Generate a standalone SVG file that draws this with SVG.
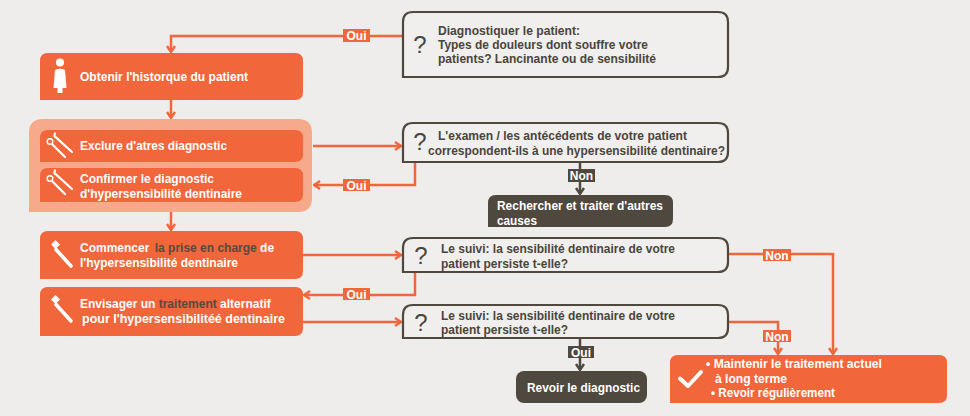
<svg xmlns="http://www.w3.org/2000/svg" width="970" height="416" viewBox="0 0 970 416">
<defs>
<style>
.bg{fill:#eeedeb}
.ob{fill:#f1663a}
.grp{fill:#f6a98b}
.qb{fill:#f0efed;stroke:#4e483f;stroke-width:2.2}
.db{fill:#4e483f}
.ot{fill:#fff;font-family:"Liberation Sans",Arial,sans-serif;font-weight:bold;font-size:12.5px}
.o12{font-size:12px}
.hl{fill:#5a4a3c}
.dt{fill:#4a453c;font-family:"Liberation Sans",Arial,sans-serif;font-weight:bold;font-size:12.5px}
.q{fill:#4a453c;font-family:"Liberation Sans",Arial,sans-serif;font-size:24px;text-anchor:middle}
.lb{fill:#fff;font-family:"Liberation Sans",Arial,sans-serif;font-weight:bold;font-size:12px;text-anchor:middle}
.co{fill:none;stroke:#f1663a;stroke-width:2.5}
.cd{fill:none;stroke:#4e483f;stroke-width:2.5}
.lo{fill:#f1663a}
.ld{fill:#4e483f}
.ic{fill:none;stroke:#fff;stroke-linecap:round}
</style>
<marker id="ao" viewBox="0 0 10 10" refX="9" refY="5" markerWidth="10" markerHeight="10" markerUnits="userSpaceOnUse" orient="auto">
<path d="M3,1 L9,5 L3,9" fill="none" stroke="#f1663a" stroke-width="2.4"/>
</marker>
<marker id="ad" viewBox="0 0 10 10" refX="9" refY="5" markerWidth="10" markerHeight="10" markerUnits="userSpaceOnUse" orient="auto">
<path d="M3,1 L9,5 L3,9" fill="none" stroke="#4e483f" stroke-width="2.4"/>
</marker>
</defs>
<rect class="bg" x="0" y="0" width="970" height="416"/>

<g id="connectors">
<path class="co" d="M403,36 H171 V52" marker-end="url(#ao)"/>
<path class="co" d="M171,100 V118" marker-end="url(#ao)"/>
<path class="co" d="M313,146 H401" marker-end="url(#ao)"/>
<path class="co" d="M415,162 V185 H314" marker-end="url(#ao)"/>
<path class="co" d="M171,212 V230" marker-end="url(#ao)"/>
<path class="cd" d="M580,162 V194" marker-end="url(#ad)"/>
<path class="co" d="M303,255 H401" marker-end="url(#ao)"/>
<path class="co" d="M415,272 V295 H304" marker-end="url(#ao)"/>
<path class="co" d="M303,322 H401" marker-end="url(#ao)"/>
<path class="co" d="M728,254 H833 V354" marker-end="url(#ao)"/>
<path class="co" d="M728,322 H778 V354" marker-end="url(#ao)"/>
<path class="cd" d="M580,338 V370" marker-end="url(#ad)"/>
<rect class="lo" x="343" y="29" width="27" height="13"/>
<text class="lb" x="356.5" y="40">Oui</text>
<rect class="lo" x="343" y="179" width="27" height="12"/>
<text class="lb" x="356.5" y="189.5">Oui</text>
<rect class="lo" x="343" y="288" width="27" height="12"/>
<text class="lb" x="356.5" y="298.5">Oui</text>
<rect class="ld" x="568" y="169" width="27" height="13"/>
<text class="lb" x="581.5" y="180">Non</text>
<rect class="ld" x="568" y="346" width="26" height="12"/>
<text class="lb" x="581" y="356.5">Oui</text>
<rect class="lo" x="763" y="249" width="28" height="12"/>
<text class="lb" x="777" y="259.5">Non</text>
<rect class="lo" x="763" y="330" width="28" height="12"/>
<text class="lb" x="777" y="340.5">Non</text>
</g>

<g id="diagnose">
<path class="qb" d="M403,77 V22 Q403,12 413,12 H718 Q728,12 728,22 V67 Q728,77 718,77 Z"/>
<text class="q" x="420" y="53">?</text>
<text class="dt" x="438" y="34.5" textLength="142" lengthAdjust="spacingAndGlyphs">Diagnostiquer le patient:</text>
<text class="dt" x="438" y="48.5" textLength="210" lengthAdjust="spacingAndGlyphs">Types de douleurs dont souffre votre</text>
<text class="dt" x="438" y="62.5" textLength="218" lengthAdjust="spacingAndGlyphs">patients? Lancinante ou de sensibilité</text>
</g>

<g id="historique">
<path class="ob" d="M40,100 V61 Q40,53 48,53 H295 Q303,53 303,61 V92 Q303,100 295,100 Z"/>
<circle cx="60" cy="62.5" r="4" fill="#fff"/>
<path d="M55,70 Q60,67.5 65,70 L66.5,88 L53.5,88 Z" fill="#fff"/>
<rect x="57.5" y="88" width="5" height="5" fill="#fff"/>
<text class="ot" x="80" y="81" textLength="168" lengthAdjust="spacingAndGlyphs">Obtenir l'historque du patient</text>
</g>

<g id="groupe">
<path class="grp" d="M29,212 V133 Q29,119 43,119 H298 Q312,119 312,133 V198 Q312,212 298,212 Z"/>
</g>

<g id="exclure">
<path class="ob" d="M40,162 V138 Q40,130 48,130 H295 Q303,130 303,138 V154 Q303,162 295,162 Z"/>
<circle cx="50" cy="141.5" r="2.8" fill="none" stroke="#fff" stroke-width="1.4"/>
<path class="ic" stroke-width="2.2" d="M52.5,144.5 L65,157"/>
<path class="ic" stroke-width="2.2" d="M55,133.5 Q53.5,136 56,137.5 L72,152"/>
<text class="ot" x="80" y="150" textLength="147" lengthAdjust="spacingAndGlyphs">Exclure d'atres diagnostic</text>
</g>

<g id="confirmer">
<path class="ob" d="M40,202 V176 Q40,168 48,168 H295 Q303,168 303,176 V194 Q303,202 295,202 Z"/>
<circle cx="50" cy="178.5" r="2.8" fill="none" stroke="#fff" stroke-width="1.4"/>
<path class="ic" stroke-width="2.2" d="M52.5,181.5 L65,194"/>
<path class="ic" stroke-width="2.2" d="M55,170.5 Q53.5,173 56,174.5 L72,189"/>
<text class="ot" x="80" y="183" textLength="134" lengthAdjust="spacingAndGlyphs">Confirmer le diagnostic</text>
<text class="ot" x="80" y="198" textLength="162" lengthAdjust="spacingAndGlyphs">d'hypersensibilité dentinaire</text>
</g>

<g id="examen">
<path class="qb" d="M403,162 V133 Q403,123 413,123 H718 Q728,123 728,133 V152 Q728,162 718,162 Z"/>
<text class="q" x="420" y="150">?</text>
<text class="dt" x="438" y="139.5" textLength="249" lengthAdjust="spacingAndGlyphs">L'examen / les antécédents de votre patient</text>
<text class="dt" x="428" y="154.5" textLength="297" lengthAdjust="spacingAndGlyphs">correspondent-ils à une hypersensibilité dentinaire?</text>
</g>

<g id="rechercher">
<path class="db" d="M488,227 V203 Q488,195 496,195 H665 Q673,195 673,203 V219 Q673,227 665,227 Z"/>
<text class="ot" x="497" y="210" textLength="166" lengthAdjust="spacingAndGlyphs">Rechercher et traiter d'autres</text>
<text class="ot" x="497" y="225" textLength="40" lengthAdjust="spacingAndGlyphs">causes</text>
</g>

<g id="commencer">
<path class="ob" d="M40,279 V239 Q40,231 48,231 H295 Q303,231 303,239 V271 Q303,279 295,279 Z"/>
<path d="M51,244.5 L55.5,240 L60,244.5 L55.5,249 Z" fill="#fff"/>
<path class="ic" stroke-width="3.6" d="M56,249.5 L71,266"/>
<text class="ot o12" x="80" y="252">Commencer <tspan class="hl" dx="2">la prise en charge</tspan> de</text>
<text class="ot" x="80" y="267" textLength="158" lengthAdjust="spacingAndGlyphs">l'hypersensibilité dentinaire</text>
</g>

<g id="suivi1">
<path class="qb" d="M403,272 V248 Q403,238 413,238 H718 Q728,238 728,248 V262 Q728,272 718,272 Z"/>
<text class="q" x="421" y="264">?</text>
<text class="dt" x="441" y="252.5" textLength="234" lengthAdjust="spacingAndGlyphs">Le suivi: la sensibilité dentinaire de votre</text>
<text class="dt" x="441" y="267.5" textLength="127" lengthAdjust="spacingAndGlyphs">patient persiste t-elle?</text>
</g>

<g id="envisager">
<path class="ob" d="M40,336 V295 Q40,287 48,287 H295 Q303,287 303,295 V328 Q303,336 295,336 Z"/>
<path d="M51,299.5 L55.5,295 L60,299.5 L55.5,304 Z" fill="#fff"/>
<path class="ic" stroke-width="3.6" d="M56,304.5 L71,321"/>
<text class="ot o12" x="80" y="308">Envisager un <tspan class="hl">traitement</tspan> alternatif</text>
<text class="ot" x="82" y="323" textLength="203" lengthAdjust="spacingAndGlyphs">pour l'hypersensibilitéé dentinaire</text>
</g>

<g id="suivi2">
<path class="qb" d="M403,338 V315 Q403,305 413,305 H718 Q728,305 728,315 V328 Q728,338 718,338 Z"/>
<text class="q" x="421" y="331">?</text>
<text class="dt" x="441" y="319.5" textLength="234" lengthAdjust="spacingAndGlyphs">Le suivi: la sensibilité dentinaire de votre</text>
<text class="dt" x="441" y="334" textLength="127" lengthAdjust="spacingAndGlyphs">patient persiste t-elle?</text>
</g>

<g id="revoir">
<rect class="db" x="516" y="371" width="131" height="32" rx="8"/>
<text class="ot" x="527" y="392" textLength="113" lengthAdjust="spacingAndGlyphs">Revoir le diagnostic</text>
</g>

<g id="maintenir">
<path class="ob" d="M670,403 V363 Q670,355 678,355 H939 Q947,355 947,363 V395 Q947,403 939,403 Z"/>
<path d="M680,378.5 L688,386 L701,372" fill="none" stroke="#fff" stroke-width="4" stroke-linecap="round" stroke-linejoin="round"/>
<text class="ot" x="706" y="367.5" textLength="176" lengthAdjust="spacingAndGlyphs">• Maintenir le traitement actuel</text>
<text class="ot" x="715" y="383" textLength="72" lengthAdjust="spacingAndGlyphs">à long terme</text>
<text class="ot" x="711" y="396.5" textLength="124" lengthAdjust="spacingAndGlyphs">• Revoir régulièrement</text>
</g>
</svg>
